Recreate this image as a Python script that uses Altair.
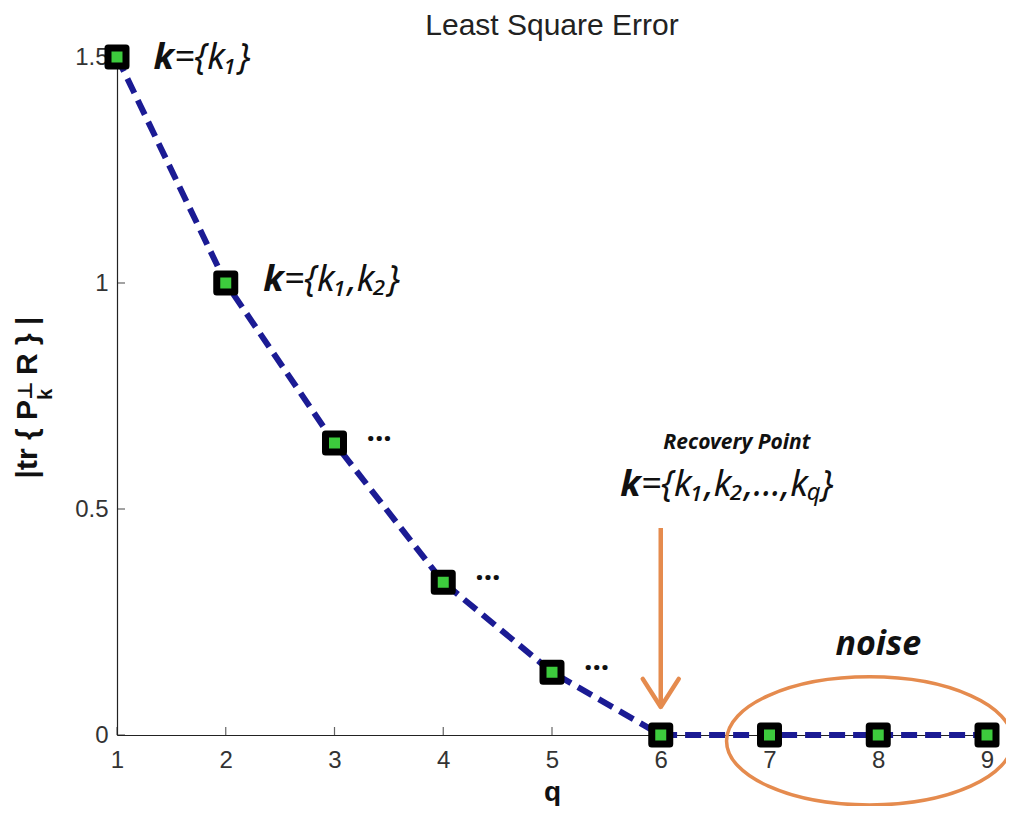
import altair as alt
import pandas as pd

# ---- data ----
q_values = [1, 2, 3, 4, 5, 6, 7, 8, 9]
error_values = [1.5, 1.0, 0.646, 0.338, 0.139, 0.0, 0.0, 0.0, 0.0]
x_ticks = [1, 2, 3, 4, 5, 6, 7, 8, 9]
y_ticks = [0, 0.5, 1.0, 1.5]
title_text = "Least Square Error"
x_title = "q"

# annotation anchors (data coordinates)
recovery_anchor = [6.70, 0.646]
formula_anchor = [6.0, 0.553]
noise_anchor = [8.0, 0.199]
arrow_top = [6.0, 0.458]
arrow_tip = [6.0, 0.062]
ellipse_center = [7.92, -0.013]

W, H = 870, 678
ORANGE = "#E58B4E"
NAVY = "#1B1B94"
GREEN = "#3DCB3D"
TXT = "#222222"

df = pd.DataFrame({"q": q_values, "err": error_values})

x_axis = alt.Axis(values=x_ticks, format="d", ticks=False, tickSize=0, grid=False,
                  domainColor="#222", domainWidth=1.2, labelFont="Liberation Sans",
                  labelFontSize=24, labelColor="#333", labelPadding=13, labelFlush=False,
                  titleFont="Liberation Sans", titleFontSize=28, titleFontWeight="bold",
                  titleColor="#111", titleY=65, titleBaseline="alphabetic")
y_axis = alt.Axis(values=y_ticks, format="~g", ticks=False, tickSize=0, grid=False,
                  domainColor="#222", domainWidth=1.2, labelFont="Liberation Sans",
                  labelFontSize=24, labelColor="#333", labelPadding=9, labelFlush=False)
x_scale = alt.Scale(domain=[1, 9], nice=False, zero=False)
y_scale = alt.Scale(domain=[0, 1.5], nice=False, zero=False)


def X(field="q"):
    return alt.X(f"{field}:Q", scale=x_scale, axis=x_axis, title=x_title)


def Y(field="err"):
    return alt.Y(f"{field}:Q", scale=y_scale, axis=y_axis, title=None)


def pt(xy):
    return pd.DataFrame({"q": [xy[0]], "err": [xy[1]]})


tick_x = alt.Chart(pd.DataFrame({"q": x_ticks, "err": [0] * len(x_ticks)})).mark_tick(
    orient="vertical", size=8, thickness=1.2, color="#222", yOffset=-4, clip=False
).encode(x=X(), y=Y())

tick_y = alt.Chart(pd.DataFrame({"q": [1] * len(y_ticks), "err": y_ticks})).mark_tick(
    orient="horizontal", size=8, thickness=1.2, color="#222", xOffset=4, clip=False
).encode(x=X(), y=Y())

line = alt.Chart(df).mark_line(color=NAVY, strokeWidth=6, strokeDash=[16, 8], clip=False).encode(
    x=X(), y=Y())

markers = alt.Chart(df).mark_point(shape="square", size=324, filled=True, fill=GREEN,
                                   stroke="#000", strokeWidth=7, strokeJoin="round",
                                   opacity=1, clip=False).encode(x=X(), y=Y())

arrow_df = pd.DataFrame({"q": [arrow_top[0]], "err": [arrow_top[1]], "err2": [arrow_tip[1] + 0.004]})
arrow = alt.Chart(arrow_df).mark_rule(color=ORANGE, strokeWidth=4.5, clip=False).encode(
    x=X(), y=Y(), y2="err2:Q")

head = alt.Chart(pt(arrow_tip)).mark_point(
    shape="M -1 -1.56 L 0 0 L 1 -1.56", size=1296, filled=False, stroke=ORANGE,
    strokeWidth=4.5, strokeCap="round", strokeJoin="round", opacity=1, clip=False
).encode(x=X(), y=Y())

ellipse_path = ("M -1 0 C -1 -0.2474 -0.5523 -0.448 0 -0.448 C 0.5523 -0.448 1 -0.2474 1 0 "
                "C 1 0.2474 0.5523 0.448 0 0.448 C -0.5523 0.448 -1 0.2474 -1 0 Z")
ellipse = alt.Chart(pt(ellipse_center)).mark_point(
    shape=ellipse_path, size=81796, filled=False, stroke=ORANGE, strokeWidth=3.5,
    opacity=1, clip=False
).encode(x=X(), y=Y())


def txt(xy, text, **kw):
    base = dict(font="Noto Sans", fontSize=36, fontStyle="italic", color="#111",
                baseline="middle", clip=False)
    base.update(kw)
    return alt.Chart(pt(xy)).mark_text(text=text, **base).encode(x=X(), y=Y())


p1 = [q_values[0], error_values[0]]
p2 = [q_values[1], error_values[1]]
texts = [
    txt(p1, "k", fontWeight="bold", align="right", dx=57, dy=1),
    txt(p1, "={k\u2081}", align="left", dx=57, dy=1),
    txt(p2, "k", fontWeight="bold", align="right", dx=58, dy=-3),
    txt(p2, "={k\u2081,k\u2082}", align="left", dx=58, dy=-3),
    txt(formula_anchor, "k", fontWeight="bold", align="right", dx=-20),
    txt(formula_anchor, "={k\u2081,k\u2082,...,k", align="left", dx=-20),
    txt(formula_anchor, "q", fontSize=24, align="left", dx=146, dy=8),
    txt(formula_anchor, "}", align="left", dx=160),
    txt(recovery_anchor, "Recovery Point", fontSize=21, fontWeight="bold", align="center"),
    txt(noise_anchor, "noise", fontSize=34, fontWeight="bold", align="center"),
]
for i in (2, 3, 4):
    texts.append(txt([q_values[i], error_values[i]], "...", font="Noto Sans", fontStyle="normal",
                     fontWeight="bold", fontSize=30, align="left", baseline="alphabetic",
                     dx=32, dy=-2))

one = pd.DataFrame({"a": [0]})


def ylab(text, y, **kw):
    base = dict(font="Liberation Sans", fontSize=30, fontWeight="bold", color="#111",
                angle=270, baseline="alphabetic", align="left")
    base.update(kw)
    return alt.Chart(one).mark_text(text=text, **base).encode(x=alt.value(-80), y=alt.value(y))


ylabels = [
    ylab("|tr { P", 343, align="right"),
    ylab("k", 343, fontSize=20, dy=15),
    ylab("\u22a5", 343, fontSize=20, dy=-5, font="DejaVu Sans"),
    ylab("R } |", 318),
]

chart = alt.layer(tick_x, tick_y, line, markers, arrow, head, ellipse, *texts, *ylabels).properties(
    width=W, height=H,
    title=alt.TitleParams(text=title_text, font="Liberation Sans", fontSize=30,
                          fontWeight="normal", color=TXT, anchor="middle", offset=-1),
    autosize=alt.AutoSizeParams(type="none"),
    padding={"left": 109, "top": 49, "right": 19, "bottom": 71},
).configure_view(stroke=None)

chart.save("out.html", embed_options={"renderer": "svg", "actions": False})
